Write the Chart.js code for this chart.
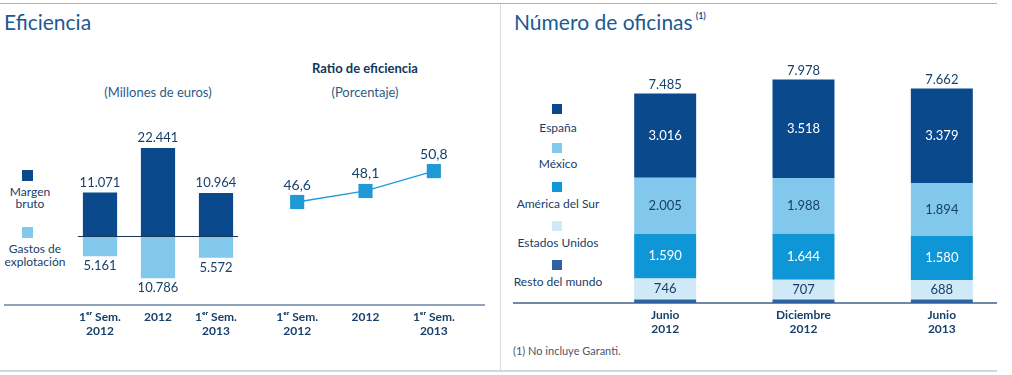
<!DOCTYPE html>
<html>
<head>
<meta charset="utf-8">
<script src="https://cdn.jsdelivr.net/npm/chart.js@4/dist/chart.umd.min.js"></script>
<style>
  html, body { margin:0; padding:0; background:#fff; }
  body { width:1012px; height:375px; position:relative; overflow:hidden; font-family:Lato, "Open Sans", sans-serif; color:#17406a; }
  canvas { position:absolute; top:0; }
  .abs { position:absolute; }
  .t { position:absolute; white-space:nowrap; transform:translate(-50%,-50%); text-align:center; }
  .sq { position:absolute; width:10px; height:10px; }
  .hl { position:absolute; height:0; }
</style>
</head>
<body>
  <!-- frame lines -->
  <div class="hl" style="left:0;top:3px;width:997px;border-top:1px solid #a3b3c3"></div>
  <div class="hl" style="left:0;top:370px;width:997px;border-top:2px solid #d3d7db"></div>
  <div class="abs" style="left:500px;top:4px;height:367px;border-left:1px solid #d5dbe0"></div>
  <div class="hl" style="left:4px;top:304px;width:481px;border-top:2px solid #8fa4bb"></div>
  <div class="hl" style="left:513px;top:302px;width:484px;border-top:2px solid #7089a5"></div>

  <!-- titles -->
  <div class="abs" style="left:4px;top:9px;font-size:21px;color:#1b5a94">Eficiencia</div>
  <div class="abs" style="left:514px;top:9px;font-size:21px;color:#1b5a94">Número de oficinas<sup style="font-size:9px;font-weight:bold;margin-left:3px;position:relative;top:-3px">(1)</sup></div>
  <div class="t" style="left:158px;top:92px;font-size:13px;color:#2d5b8a">(Millones de euros)</div>
  <div class="t" style="left:365px;top:68px;font-size:13px;font-weight:bold;color:#12365c">Ratio de eficiencia</div>
  <div class="t" style="left:365px;top:92px;font-size:13px;color:#2d5b8a">(Porcentaje)</div>

  <!-- left legend -->
  <div class="sq" style="left:22px;top:170px;width:11px;height:11px;background:#0a4a8c"></div>
  <div class="t" style="left:30px;top:191px;font-size:12px">Margen</div>
  <div class="t" style="left:30px;top:203px;font-size:12px">bruto</div>
  <div class="sq" style="left:22px;top:227px;width:11px;height:11px;background:#82c8ec"></div>
  <div class="t" style="left:35px;top:248px;font-size:12px">Gastos de</div>
  <div class="t" style="left:35px;top:261px;font-size:12px">explotación</div>

  <!-- right legend -->
  <div class="sq" style="left:552px;top:104px;background:#0a4a8c"></div>
  <div class="t" style="left:558px;top:127px;font-size:12px">España</div>
  <div class="sq" style="left:552px;top:143px;background:#82c8ec"></div>
  <div class="t" style="left:558px;top:163px;font-size:12px">México</div>
  <div class="sq" style="left:552px;top:182px;background:#0f96d6"></div>
  <div class="t" style="left:558px;top:203px;font-size:12px">América del Sur</div>
  <div class="sq" style="left:552px;top:221px;background:#cfe9f7"></div>
  <div class="t" style="left:558px;top:242px;font-size:12px">Estados Unidos</div>
  <div class="sq" style="left:552px;top:260px;background:#2e62a0"></div>
  <div class="t" style="left:558px;top:281px;font-size:12px">Resto del mundo</div>

  <div class="abs" style="left:513px;top:344px;font-size:11px;color:#4a5868">(1) No incluye Garanti.</div>

  <canvas id="cEfic" width="250" height="375" style="left:0"></canvas>
  <canvas id="cRatio" width="250" height="375" style="left:250px"></canvas>
  <canvas id="cOfic" width="512" height="375" style="left:500px"></canvas>

<script>
// --- data ---
const periodos = [['1ᵉʳ Sem.', '2012'], '2012', ['1ᵉʳ Sem.', '2013']];
const margenBruto = [11071, 22441, 10964];
const gastosExplotacion = [-5161, -10786, -5572];
const ratioEficiencia = [46.6, 48.1, 50.8];

const fechas = [['Junio', '2012'], ['Diciembre', '2012'], ['Junio', '2013']];
const espana = [3016, 3518, 3379];
const mexico = [2005, 1988, 1894];
const americaSur = [1590, 1644, 1580];
const eeuu = [746, 707, 688];
const restoMundo = [128, 121, 121];

const DARK = '#0a4a8c', LIGHT = '#82c8ec', MID = '#0f96d6', PALE = '#cfe9f7', RESTO = '#2e62a0';
const TXT = '#17406a';
const FONT = 'Lato, "Open Sans", sans-serif';

// 11071 -> "11.071", 46.6 -> "46,6"
const miles = v => String(Math.round(Math.abs(v))).replace(/\B(?=(\d{3})+(?!\d))/g, '.');
const coma = v => v.toFixed(1).replace('.', ',');

const xTicks = { color: TXT, padding: 5, font: { family: FONT, size: 12, weight: 'bold' }, maxRotation: 0, autoSkip: false };

// --- Eficiencia (millones de euros) ---
const eficLabels = {
  id: 'eficLabels',
  afterDatasetsDraw(chart) {
    const { ctx, scales: { x, y } } = chart;
    ctx.save();
    // zero line a bit wider than the bars
    const m0 = chart.getDatasetMeta(0).data;
    const l = m0[0].x - m0[0].width / 2 - 5, r = m0[m0.length - 1].x + m0[0].width / 2 + 5;
    ctx.strokeStyle = '#1c3557'; ctx.lineWidth = 1;
    ctx.beginPath(); ctx.moveTo(l, Math.round(y.getPixelForValue(0)) + 0.5); ctx.lineTo(r, Math.round(y.getPixelForValue(0)) + 0.5); ctx.stroke();
    ctx.font = '13px ' + FONT; ctx.fillStyle = TXT; ctx.textAlign = 'center'; ctx.textBaseline = 'middle';
    chart.data.datasets.forEach((ds, di) => {
      chart.getDatasetMeta(di).data.forEach((bar, i) => {
        const v = ds.data[i];
        ctx.fillText(miles(v), bar.x, v >= 0 ? bar.y - 10 : bar.y + 10);
      });
    });
    ctx.restore();
  }
};

new Chart(document.getElementById('cEfic'), {
  type: 'bar',
  data: {
    labels: periodos,
    datasets: [
      { label: 'Margen bruto', data: margenBruto, backgroundColor: DARK },
      { label: 'Gastos de explotación', data: gastosExplotacion, backgroundColor: LIGHT }
    ]
  },
  options: {
    responsive: false, animation: false,
    layout: { padding: { left: 71, right: 5, top: 138, bottom: 0 } },
    plugins: { legend: { display: false }, tooltip: { enabled: false } },
    datasets: { bar: { categoryPercentage: 1, barPercentage: 0.59 } },
    scales: {
      x: { stacked: true, grid: { display: false, drawTicks: false }, border: { display: false }, ticks: xTicks, afterFit: s => { s.height = 70; } },
      y: { stacked: true, display: false, min: -17600, max: 25000 }
    }
  },
  plugins: [eficLabels]
});

// --- Ratio de eficiencia ---
const ratioLabels = {
  id: 'ratioLabels',
  afterDatasetsDraw(chart) {
    const { ctx } = chart;
    ctx.save();
    ctx.font = '14px ' + FONT; ctx.fillStyle = TXT; ctx.textAlign = 'center'; ctx.textBaseline = 'middle';
    chart.getDatasetMeta(0).data.forEach((pt, i) => ctx.fillText(coma(ratioEficiencia[i]), pt.x, pt.y - 17));
    ctx.restore();
  }
};

new Chart(document.getElementById('cRatio'), {
  type: 'line',
  data: {
    labels: periodos,
    datasets: [{
      label: 'Ratio de eficiencia', data: ratioEficiencia,
      borderColor: '#1f9ad6', borderWidth: 1.3, backgroundColor: '#1f9ad6',
      pointStyle: 'rect', pointRadius: 10, pointBorderWidth: 0, tension: 0
    }]
  },
  options: {
    responsive: false, animation: false,
    layout: { padding: { left: 13, right: 32, top: 138, bottom: 0 } },
    plugins: { legend: { display: false }, tooltip: { enabled: false } },
    scales: {
      x: { offset: true, grid: { display: false, drawTicks: false }, border: { display: false }, ticks: xTicks, afterFit: s => { s.height = 70; } },
      y: { display: false, min: 32.6, max: 55.3 }
    }
  },
  plugins: [ratioLabels]
});

// --- Número de oficinas ---
const oficLabels = {
  id: 'oficLabels',
  afterDatasetsDraw(chart) {
    const { ctx } = chart;
    ctx.save();
    ctx.font = '13px ' + FONT; ctx.textAlign = 'center'; ctx.textBaseline = 'middle';
    chart.data.datasets.forEach((ds, di) => {
      if (!ds.labelColor) return;
      ctx.fillStyle = ds.labelColor;
      chart.getDatasetMeta(di).data.forEach((bar, i) => {
        ctx.fillText(miles(ds.data[i]), bar.x, (bar.y + bar.base) / 2);
      });
    });
    const top = chart.getDatasetMeta(chart.data.datasets.length - 1).data;
    ctx.fillStyle = TXT;
    top.forEach((bar, i) => {
      const total = chart.data.datasets.reduce((s, ds) => s + ds.data[i], 0);
      ctx.fillText(miles(total), bar.x, bar.y - 9);
    });
    ctx.restore();
  }
};

new Chart(document.getElementById('cOfic'), {
  type: 'bar',
  data: {
    labels: fechas,
    datasets: [
      { label: 'Resto del mundo', data: restoMundo, backgroundColor: RESTO },
      { label: 'Estados Unidos', data: eeuu, backgroundColor: PALE, labelColor: TXT },
      { label: 'América del Sur', data: americaSur, backgroundColor: MID, labelColor: '#fff' },
      { label: 'México', data: mexico, backgroundColor: LIGHT, labelColor: TXT },
      { label: 'España', data: espana, backgroundColor: DARK, labelColor: '#fff' }
    ]
  },
  options: {
    responsive: false, animation: false,
    layout: { padding: { left: 96, right: 1, top: 51, bottom: 0 } },
    plugins: { legend: { display: false }, tooltip: { enabled: false } },
    datasets: { bar: { categoryPercentage: 1, barPercentage: 0.448 } },
    scales: {
      x: { stacked: true, grid: { display: false, drawTicks: false }, border: { display: false }, ticks: xTicks, afterFit: s => { s.height = 72; } },
      y: { stacked: true, display: false, min: 0, max: 9000 }
    }
  },
  plugins: [oficLabels]
});
</script>
</body>
</html>
